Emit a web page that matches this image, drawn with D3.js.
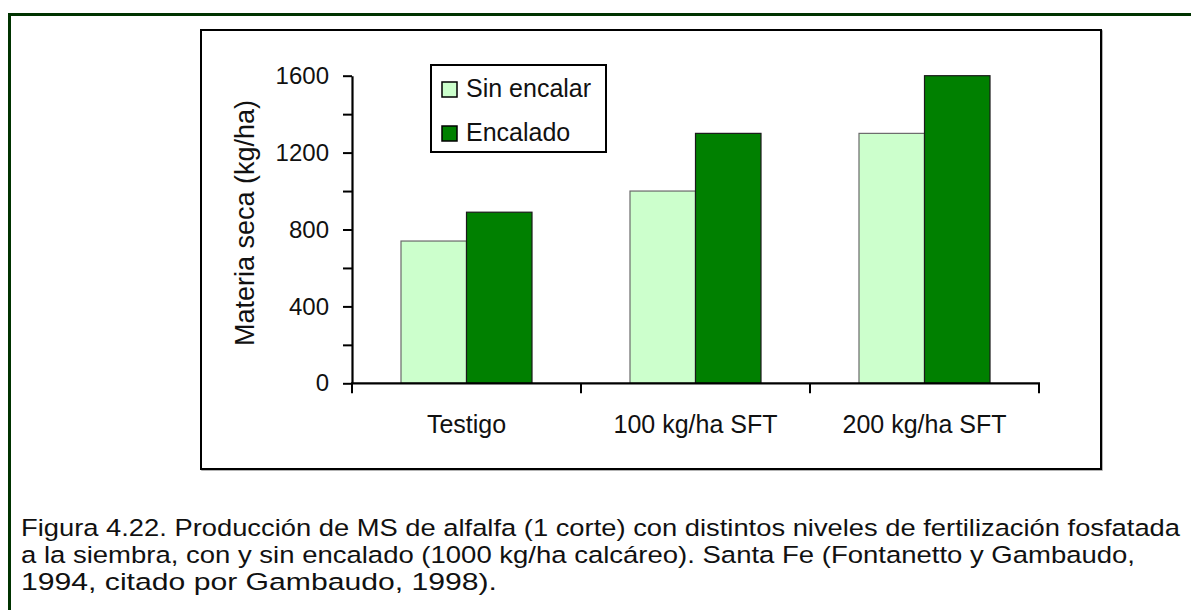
<!DOCTYPE html>
<html>
<head>
<meta charset="utf-8">
<script src="https://cdn.jsdelivr.net/npm/d3@7"></script>
<style>
  html, body { margin: 0; padding: 0; background: #fff; }
  svg { display: block; font-family: "Liberation Sans", Arial, sans-serif; }
</style>
</head>
<body>
<svg id="chart" width="1191" height="610"></svg>
<script>
const categories = ["Testigo", "100 kg/ha SFT", "200 kg/ha SFT"];
const seriesNames = ["Sin encalar", "Encalado"];
const sinEncalar = [740, 1000, 1300];
const encalado = [890, 1300, 1600];
const yTicks = [0, 400, 800, 1200, 1600];
const yMinorTicks = [200, 600, 1000, 1400];
const seriesColors = ["#CCFFCC", "#008000"];
const captionLines = [
  "Figura 4.22. Producción de MS de alfalfa (1 corte) con distintos niveles de fertilización fosfatada",
  "a la siembra, con y sin encalado (1000 kg/ha calcáreo). Santa Fe (Fontanetto y Gambaudo,",
  "1994, citado por Gambaudo, 1998)."
];

const svg = d3.select("#chart");
svg.append("rect").attr("width", 1191).attr("height", 610).attr("fill", "#fff");

// outer frame
svg.append("path")
  .attr("d", "M9.5,610 L9.5,14.5 L1191,14.5")
  .attr("fill", "none").attr("stroke", "#003300").attr("stroke-width", 3);

// chart box
svg.append("rect").attr("x", 202).attr("y", 31).attr("width", 900).attr("height", 439)
  .attr("fill", "none").attr("stroke", "#999").attr("stroke-width", 1.5);
svg.append("rect").attr("x", 201).attr("y", 30).attr("width", 900).attr("height", 439)
  .attr("fill", "#fff").attr("stroke", "#000").attr("stroke-width", 2);

const x0 = d3.scaleBand().domain(categories).range([352, 1039]).paddingInner(0).paddingOuter(0);
const x1 = d3.scaleBand().domain(seriesNames).range([0, x0.bandwidth()]).paddingInner(0).paddingOuter(0.748);
const y = d3.scaleLinear().domain([0, 1600]).range([383.3, 75.7]);

const rows = categories.map((c, i) => ({ cat: c, vals: [sinEncalar[i], encalado[i]] }));

// bars
const g = svg.append("g");
rows.forEach(r => {
  r.vals.forEach((v, j) => {
    g.append("rect")
      .attr("x", x0(r.cat) + x1(seriesNames[j]))
      .attr("y", y(v))
      .attr("width", x1.bandwidth())
      .attr("height", y(0) - y(v))
      .attr("fill", seriesColors[j])
      .attr("stroke", j === 0 ? "#6a6a6a" : "#1a1a1a")
      .attr("stroke-width", 1.2);
  });
});

// y axis minor ticks
svg.append("g").attr("transform", "translate(352,0)")
  .call(d3.axisLeft(y).tickValues(yMinorTicks).tickSize(9).tickFormat(""))
  .call(s => s.select(".domain").remove())
  .call(s => s.selectAll("line").attr("stroke", "#000").attr("stroke-width", 2));

// y axis major
const yAxis = svg.append("g").attr("transform", "translate(352,0)")
  .call(d3.axisLeft(y).tickValues(yTicks).tickSize(9).tickSizeOuter(0).tickPadding(14).tickFormat(d3.format("d")));
yAxis.select(".domain").attr("stroke", "#000").attr("stroke-width", 2.2);
yAxis.selectAll("line").attr("stroke", "#000").attr("stroke-width", 2);
yAxis.selectAll("text").attr("font-size", 24).attr("fill", "#111")
  .attr("font-family", "Liberation Sans, Arial, sans-serif");

// x axis
const boundaries = categories.map(c => x0(c)).concat([x0(categories[categories.length - 1]) + x0.bandwidth()]);
svg.append("line").attr("x1", 351).attr("x2", 1040).attr("y1", y(0)).attr("y2", y(0))
  .attr("stroke", "#000").attr("stroke-width", 2.2);
svg.append("g").selectAll("line").data(boundaries).join("line")
  .attr("x1", d => d).attr("x2", d => d).attr("y1", y(0)).attr("y2", y(0) + 10)
  .attr("stroke", "#000").attr("stroke-width", 2);
svg.append("g").selectAll("text").data(categories).join("text")
  .attr("x", d => x0(d) + x0.bandwidth() / 2)
  .attr("y", 433)
  .attr("text-anchor", "middle")
  .attr("font-size", 25)
  .attr("fill", "#111")
  .text(d => d);

// y title
svg.append("text")
  .attr("transform", "translate(254,223) rotate(-90)")
  .attr("text-anchor", "middle")
  .attr("font-size", 27)
  .attr("fill", "#111")
  .text("Materia seca (kg/ha)");

// legend
const lg = svg.append("g");
lg.append("rect").attr("x", 431).attr("y", 65).attr("width", 175).attr("height", 87)
  .attr("fill", "#fff").attr("stroke", "#000").attr("stroke-width", 2);
seriesNames.forEach((s, i) => {
  const yy = [82, 126][i];
  lg.append("rect").attr("x", 442).attr("y", yy).attr("width", 15).attr("height", 15)
    .attr("fill", seriesColors[i]).attr("stroke", "#000").attr("stroke-width", 1.5);
  lg.append("text").attr("x", 466).attr("y", [97, 141][i])
    .attr("font-size", 25).attr("fill", "#111").text(s);
});

// caption
const capEnds = [1180, 1135, 497];
svg.append("g").selectAll("text").data(captionLines).join("text")
  .attr("x", 21)
  .attr("y", (d, i) => 536 + i * 27)
  .attr("font-size", 24.5)
  .attr("fill", "#111")
  .attr("textLength", (d, i) => capEnds[i] - 21)
  .attr("lengthAdjust", "spacingAndGlyphs")
  .text(d => d);
</script>
</body>
</html>
